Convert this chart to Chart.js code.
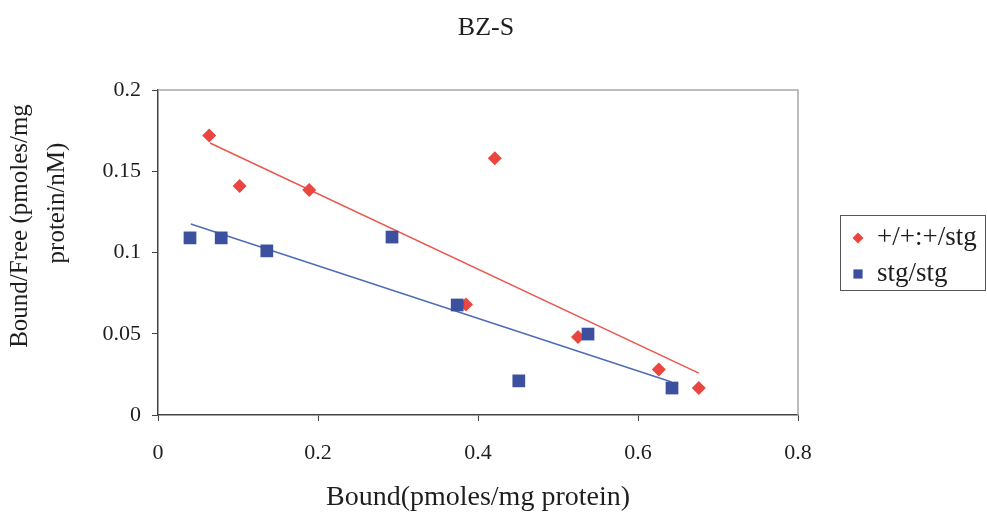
<!DOCTYPE html>
<html>
<head>
<meta charset="utf-8">
<title>BZ-S</title>
<script src="https://cdn.jsdelivr.net/npm/chart.js@4"></script>
<style>
  html, body { margin: 0; padding: 0; background: #fff; }
  #wrap { width: 987px; height: 522px; position: relative; }
</style>
</head>
<body>
<div id="wrap"><canvas id="bzChart" width="987" height="522"></canvas></div>
<script>
/* data */
var wtBound = [0.064, 0.102, 0.189, 0.421, 0.385, 0.525, 0.626, 0.676];
var wtRatio = [0.172, 0.141, 0.1385, 0.158, 0.068, 0.048, 0.028, 0.0166];
var stgBound = [0.040, 0.079, 0.136, 0.2925, 0.374, 0.451, 0.5375, 0.6425];
var stgRatio = [0.109, 0.109, 0.101, 0.1095, 0.0677, 0.021, 0.0498, 0.0166];

// trend line end points
var wtTrendX = [0.065, 0.676];
var wtTrendY = [0.1674, 0.0258];
var stgTrendX = [0.041, 0.642];
var stgTrendY = [0.1175, 0.0203];

var xTicks = [0, 0.2, 0.4, 0.6, 0.8];
var yTicks = [0, 0.05, 0.1, 0.15, 0.2];

var seriesNames = ['+/+:+/stg', 'stg/stg'];
var chartTitle = 'BZ-S';
var xTitle = 'Bound(pmoles/mg protein)';
var yTitle = ['Bound/Free (pmoles/mg', 'protein/nM)'];

var RED = '#e8463e';
var BLUE = '#3d4f9f';
var TEXT = '#1e1e1e';
var FONT = "'Liberation Serif', 'Times New Roman', serif";

function pts(xs, ys) {
  return xs.map(function (x, i) { return { x: x, y: ys[i] }; });
}

// box around the plot (top/right light gray edges)
var frameLines = {
  id: 'frameLines',
  afterDatasetsDraw: function (chart) {
    var a = chart.chartArea, ctx = chart.ctx;
    ctx.save();
    ctx.strokeStyle = '#a8a8a8';
    ctx.lineWidth = 1.5;
    ctx.beginPath();
    ctx.moveTo(a.left, a.top);
    ctx.lineTo(a.right, a.top);
    ctx.lineTo(a.right, a.bottom);
    ctx.stroke();
    ctx.restore();
  }
};

// chart title + two-line y title, placed like the excel original
var titles = {
  id: 'titles',
  afterDraw: function (chart) {
    var ctx = chart.ctx;
    ctx.save();
    ctx.fillStyle = TEXT;
    ctx.textAlign = 'center';
    ctx.textBaseline = 'middle';
    ctx.font = '26px ' + FONT;
    ctx.fillText(chartTitle, 486, 28);

    ctx.font = '25px ' + FONT;
    ctx.textBaseline = 'alphabetic';
    [[27, 226], [64, 203]].forEach(function (p, i) {
      ctx.save();
      ctx.translate(p[0], p[1]);
      ctx.rotate(-Math.PI / 2);
      ctx.fillText(yTitle[i], 0, 0);
      ctx.restore();
    });
    ctx.restore();
  }
};

// legend in a box on the right, like the excel one
var boxLegend = {
  id: 'boxLegend',
  afterDraw: function (chart) {
    var ctx = chart.ctx;
    var bx = 840, by = 215, bw = 145, bh = 75;
    ctx.save();
    ctx.strokeStyle = '#555';
    ctx.lineWidth = 1;
    ctx.strokeRect(bx + 0.5, by + 0.5, bw, bh);
    ctx.font = '27px ' + FONT;
    ctx.textBaseline = 'middle';
    var rows = [
      { ds: chart.data.datasets[0], y: by + 23 },
      { ds: chart.data.datasets[1], y: by + 59 }
    ];
    rows.forEach(function (r) {
      ctx.fillStyle = r.ds.backgroundColor;
      ctx.strokeStyle = r.ds.backgroundColor;
      Chart.helpers.drawPoint(ctx, {
        pointStyle: r.ds.pointStyle,
        radius: r.ds.pointStyle === 'rect' ? 6.5 : 5.5,
        rotation: 0,
        borderWidth: 0
      }, bx + 18, r.y);
      ctx.fillStyle = TEXT;
      ctx.fillText(r.ds.label, bx + 37, r.y);
    });
    ctx.restore();
  }
};

var ctx = document.getElementById('bzChart');

new Chart(ctx, {
  type: 'scatter',
  data: {
    datasets: [{
      label: seriesNames[0],
      data: pts(wtBound, wtRatio),
      pointStyle: 'rectRot',
      pointRadius: 7,
      backgroundColor: RED,
      borderColor: RED,
      borderWidth: 0,
      order: 1
    }, {
      label: seriesNames[1],
      data: pts(stgBound, stgRatio),
      pointStyle: 'rect',
      pointRadius: 9,
      backgroundColor: BLUE,
      borderColor: BLUE,
      borderWidth: 0,
      order: 0
    }, {
      label: 'trend wt',
      data: pts(wtTrendX, wtTrendY),
      showLine: true,
      pointRadius: 0,
      borderColor: '#e8584f',
      borderWidth: 1.5,
      order: 2
    }, {
      label: 'trend stg',
      data: pts(stgTrendX, stgTrendY),
      showLine: true,
      pointRadius: 0,
      borderColor: '#4f6cb8',
      borderWidth: 1.5,
      order: 2
    }]
  },
  options: {
    responsive: false,
    animation: false,
    layout: { padding: { left: 0, right: 189, top: 90, bottom: 0 } },
    plugins: {
      legend: { display: false },
      tooltip: { enabled: false },
      title: { display: false }
    },
    scales: {
      x: {
        type: 'linear',
        min: 0,
        max: 0.8,
        afterBuildTicks: function (s) { s.ticks = xTicks.map(function (v) { return { value: v }; }); },
        afterFit: function (s) { s.height = 107; },
        ticks: {
          color: TEXT,
          padding: 19,
          font: { family: FONT, size: 22 },
          callback: function (v) { return String(v); }
        },
        grid: { drawOnChartArea: false, drawTicks: true, tickLength: 6, color: '#444' },
        border: { display: true, color: '#444', width: 1.5 },
        title: {
          display: true,
          text: xTitle,
          color: TEXT,
          font: { family: FONT, size: 28 },
          padding: { top: 6, bottom: 8 }
        }
      },
      y: {
        type: 'linear',
        min: 0,
        max: 0.2,
        afterBuildTicks: function (s) { s.ticks = yTicks.map(function (v) { return { value: v }; }); },
        afterFit: function (s) { s.width = 158; },
        ticks: {
          color: TEXT,
          padding: 11,
          font: { family: FONT, size: 22 },
          callback: function (v) { return String(v); }
        },
        grid: { drawOnChartArea: false, drawTicks: true, tickLength: 6, color: '#444' },
        border: { display: true, color: '#444', width: 1.5 },
        title: { display: false }
      }
    }
  },
  plugins: [frameLines, titles, boxLegend]
});
</script>
</body>
</html>
